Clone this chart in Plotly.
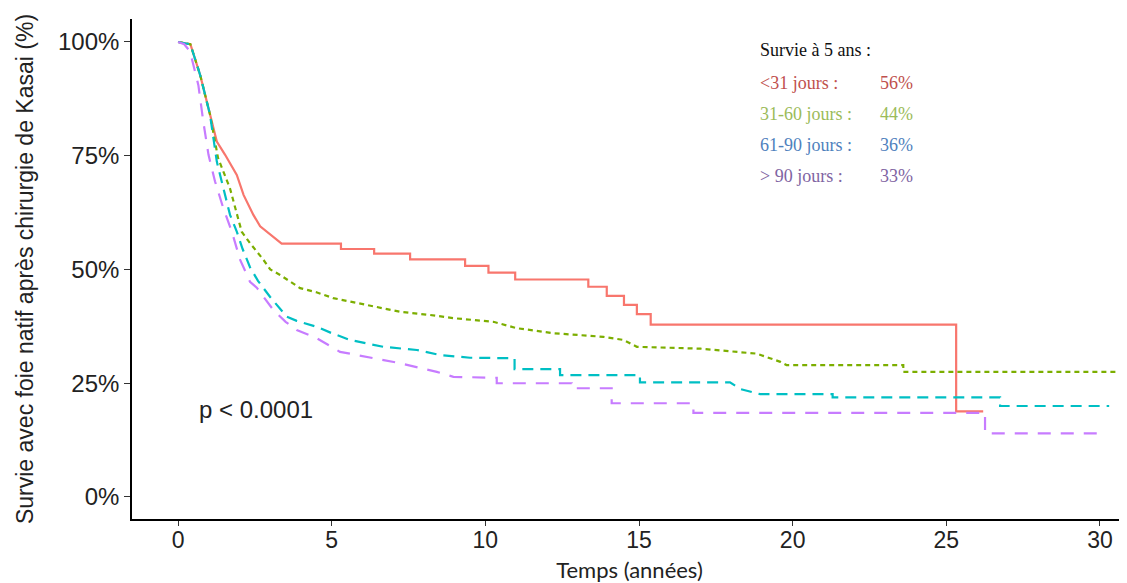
import plotly.graph_objects as go

# ---- data (repeated times mark vertical steps) ----
red_t = [0, 0.4, 0.72, 1.04, 1.26, 1.53, 1.91, 2.13, 2.45, 2.67, 2.89, 3.0, 3.37,
         5.3, 5.3, 6.38, 6.38, 7.55, 7.55, 9.34, 9.34, 10.1, 10.1, 10.97, 10.97,
         13.35, 13.35, 13.95, 13.95, 14.51, 14.51, 14.93, 14.93, 15.38, 15.38,
         25.32, 25.32, 26.2]
red_s = [100, 99.5, 92.7, 84.0, 78.1, 75.2, 70.8, 66.4, 62.0, 59.5, 58.3, 57.6, 55.7,
         55.7, 54.5, 54.5, 53.5, 53.5, 52.2, 52.2, 50.8, 50.8, 49.3, 49.3, 47.8,
         47.8, 46.2, 46.2, 44.2, 44.2, 42.2, 42.2, 40.2, 40.2, 37.9,
         37.9, 18.8, 18.8]

green_t = [0, 0.4, 0.72, 1.04, 1.3, 1.69, 2.07, 2.34, 2.78, 3.0, 3.32, 3.97, 4.5, 5.05,
           6.14, 7.22, 8.2, 8.96, 10.26, 11.02, 12.2, 13.84, 14.5, 14.93, 17.0, 18.07,
           18.83, 19.26, 19.6, 19.8, 23.6, 23.6, 31.5]
green_s = [100, 99.5, 92.7, 84.0, 74.5, 67.8, 58.3, 55.8, 52.1, 50.0, 48.8, 45.9, 45.0, 43.7,
           42.2, 40.7, 40.0, 39.3, 38.5, 37.1, 36.0, 35.2, 34.5, 33.0, 32.6, 31.9,
           31.5, 30.5, 29.7, 29.0, 29.0, 27.5, 27.5]

teal_t = [0, 0.4, 0.72, 1.04, 1.26, 1.47, 1.69, 1.91, 2.1, 2.34, 2.6, 2.99, 3.3, 3.54,
          3.86, 4.51, 5.0, 5.6, 6.68, 7.77, 8.53, 9.5, 10.95, 10.95, 12.43, 12.43,
          15.03, 15.03, 17.96, 18.3, 18.94, 21.3, 21.3, 26.75, 26.75, 30.3]
teal_s = [100, 99.5, 92.7, 84.0, 73.7, 67.8, 62.0, 58.3, 54.5, 50.5, 47.5, 44.0, 41.5, 39.6,
          38.7, 37.4, 36.0, 34.5, 33.0, 32.3, 31.2, 30.6, 30.5, 28.1, 28.1, 26.8,
          26.8, 25.2, 25.2, 23.7, 22.6, 22.6, 21.9, 21.9, 20.0, 20.0]

purple_t = [0, 0.2, 0.39, 0.5, 0.66, 0.82, 0.99, 1.2, 1.47, 1.75, 2.02, 2.34, 2.56, 3.1,
            3.5, 3.86, 4.51, 5.27, 6.14, 7.22, 8.42, 8.96, 10.37, 10.37, 12.81, 12.81,
            14.11, 14.11, 16.77, 16.77, 26.26, 26.26, 30.0]
purple_s = [100, 99.5, 97.9, 95.0, 90.5, 82.5, 75.2, 69.4, 63.5, 58.3, 52.1, 47.3, 46.0, 41.1,
            38.5, 36.7, 34.9, 31.9, 30.8, 29.4, 27.5, 26.4, 26.2, 25.0, 25.0, 23.9,
            23.9, 20.6, 20.6, 18.5, 18.5, 14.0, 14.0]

x_ticks = [0, 5, 10, 15, 20, 25, 30]
y_ticks = [0, 25, 50, 75, 100]
y_tick_labels = ["0%", "25%", "50%", "75%", "100%"]

legend_title = "Survie à 5 ans :"
legend_groups = ["<31 jours :", "31-60 jours :", "61-90 jours :", "> 90 jours :"]
legend_values = ["56%", "44%", "36%", "33%"]
legend_colors = ["#C0504D", "#9BBB59", "#4F81BD", "#8064A2"]

# ---- figure (page has an 8px body margin) ----
OFF = 8
W, H = 1127 - OFF, 583 - OFF
ML, MR, MT, MB = 132 - OFF, 0, 19 - OFF, 64
pw, ph = W - ML - MR, H - MT - MB

def px_x(sx):
    return (sx - OFF - ML) / pw

def px_y(sy):
    return (H - MB - (sy - OFF)) / ph

fig = go.Figure()
series = [
    (red_t, red_s, "#F8766D", "solid"),
    (green_t, green_s, "#7CAE00", "5px,4px"),
    (teal_t, teal_s, "#00BFC4", "11px,7px"),
    (purple_t, purple_s, "#C77CFF", "13px,10px"),
]
for t, s, col, dash in series:
    fig.add_trace(go.Scatter(x=t, y=s, mode="lines",
                             line=dict(color=col, width=2.2, dash=dash),
                             showlegend=False, hoverinfo="skip"))

serif = "Liberation Serif, Times New Roman, serif"
ann = []
ann.append(dict(text=legend_title, x=px_x(758), y=px_y(50), xref="paper", yref="paper",
                xanchor="left", yanchor="middle", showarrow=False,
                font=dict(family=serif, size=18, color="#111")))
rows_y = [83, 114, 145, 176]
for g, v, c, yy in zip(legend_groups, legend_values, legend_colors, rows_y):
    ann.append(dict(text=g, x=px_x(758), y=px_y(yy), xref="paper", yref="paper",
                    xanchor="left", yanchor="middle", showarrow=False,
                    font=dict(family=serif, size=18, color=c)))
    ann.append(dict(text=v, x=px_x(878), y=px_y(yy), xref="paper", yref="paper",
                    xanchor="left", yanchor="middle", showarrow=False,
                    font=dict(family=serif, size=18, color=c)))
ann.append(dict(text="p < 0.0001", x=px_x(197), y=px_y(409), xref="paper", yref="paper",
                xanchor="left", yanchor="middle", showarrow=False,
                font=dict(family="Liberation Sans, Arial, sans-serif", size=24, color="#222")))

fig.update_layout(
    width=W, height=H,
    margin=dict(l=ML, r=MR, t=MT, b=MB, pad=0),
    paper_bgcolor="white", plot_bgcolor="white",
    annotations=ann,
    xaxis=dict(range=[-1.5, 30.88], tickvals=x_ticks, showgrid=False, zeroline=False,
               showline=True, linecolor="black", linewidth=1.6,
               ticks="outside", ticklen=5, tickwidth=1.4, tickcolor="#333",
               ticklabelstandoff=-5,
               tickfont=dict(family="Liberation Sans, Arial, sans-serif", size=23, color="#222"),
               title=dict(text="Temps (années)", standoff=14,
                          font=dict(family="Lato, sans-serif", size=22, color="#222"))),
    yaxis=dict(range=[-4.84, 105.05], tickvals=y_ticks, ticktext=y_tick_labels,
               showgrid=False, zeroline=False,
               showline=True, linecolor="black", linewidth=1.6,
               ticks="outside", ticklen=6, tickwidth=1.4, tickcolor="#333",
               tickfont=dict(family="Liberation Sans, Arial, sans-serif", size=24, color="#222"),
               title=dict(text="Survie avec foie natif après chirurgie de Kasai (%)", standoff=18,
                          font=dict(family="Liberation Sans, Arial, sans-serif", size=23, color="#222"))),
)

fig.write_html("out.html")
